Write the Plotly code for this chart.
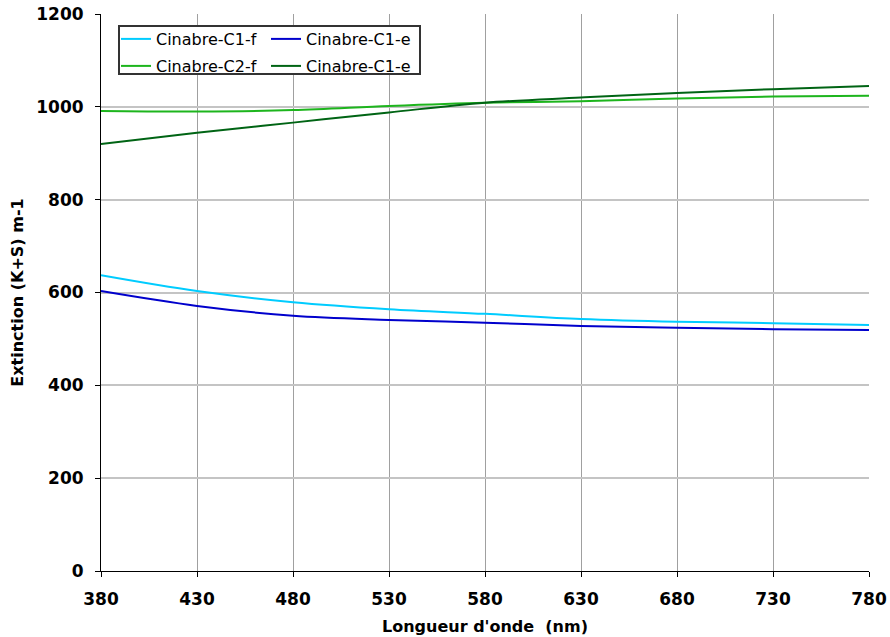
import plotly.graph_objects as go

wavelength = [380, 430, 480, 530, 580, 630, 680, 730, 780]
c1_f = [637, 603, 579, 564, 554, 543, 537, 534, 530]
c1_e = [603, 571, 550, 541, 535, 528, 524, 521, 519]
c2_f = [991, 990, 993, 1002, 1009, 1012, 1018, 1022, 1024]
c1_e2 = [920, 944, 966, 988, 1009, 1020, 1030, 1038, 1045]

FONT = "DejaVu Sans, Verdana, sans-serif"
W, H = 890, 637
L, R, T, B = 101, 21, 14, 66
pw, ph = W - L - R, H - T - B

def px(xp):
    return (xp - L) / pw

def py(yp):
    return (H - B - yp) / ph

# (name, values, colour, legend id, legend left px, legend row centre px)
series = [
    ("Cinabre-C1-f", c1_f, "#00CCFF", "legend", 116, 39),
    ("Cinabre-C1-e", c1_e, "#0000CC", "legend2", 266, 39),
    ("Cinabre-C2-f", c2_f, "#1DB51D", "legend3", 116, 66),
    ("Cinabre-C1-e", c1_e2, "#006414", "legend4", 266, 66),
]

fig = go.Figure()
legends = {}
for name, vals, color, lg, lx, ly in series:
    fig.add_trace(go.Scatter(
        x=wavelength, y=vals, mode="lines", name=name,
        line=dict(color=color, width=2, shape="spline"),
        legend=lg,
    ))
    legends[lg] = dict(
        x=px(lx), y=py(ly), xanchor="left", yanchor="middle",
        font=dict(family=FONT, size=16, color="#000"),
        bgcolor="rgba(0,0,0,0)", borderwidth=0,
    )

fig.update_layout(
    width=W, height=H,
    margin=dict(l=L, r=R, t=T, b=B, autoexpand=False),
    paper_bgcolor="white", plot_bgcolor="white",
    font=dict(family=FONT, color="#000"),
    showlegend=True,
    **legends,
    shapes=[dict(
        type="rect", xref="paper", yref="paper",
        x0=px(119), x1=px(420), y0=py(74), y1=py(26),
        line=dict(color="#333333", width=2), fillcolor="white", layer="above",
    )],
    xaxis=dict(
        range=[380, 780], tickmode="array", tickvals=wavelength,
        ticktext=[str(v) for v in wavelength],
        showgrid=True, gridcolor="#A0A0A0", gridwidth=1,
        showline=True, linecolor="#000", linewidth=1,
        ticks="outside", ticklen=5, tickcolor="#000",
        tickfont=dict(family=FONT, size=17, color="#000", weight="bold"),
        ticklabelstandoff=8, automargin=False, ticklabeloverflow="allow",
        zeroline=False,
        title=dict(text="Longueur d'onde  (nm)", standoff=12,
                   font=dict(family=FONT, size=16, color="#000", weight="bold")),
    ),
    yaxis=dict(
        range=[0, 1200], tickvals=[0, 200, 400, 600, 800, 1000, 1200],
        showgrid=True, gridcolor="#C4C4C4", gridwidth=2,
        showline=True, linecolor="#000", linewidth=1,
        ticks="outside", ticklen=5, tickcolor="#000",
        tickfont=dict(family=FONT, size=17, color="#000", weight="bold"),
        ticklabelstandoff=8, automargin=False, ticklabeloverflow="allow",
        zeroline=False,
        title=dict(text="Extinction (K+S) m-1", standoff=8,
                   font=dict(family=FONT, size=16, color="#000", weight="bold")),
    ),
)

fig.write_html(
    "out.html",
    config={"displayModeBar": False},
    post_script="document.body.style.margin='0';document.body.style.overflow='hidden';",
)
